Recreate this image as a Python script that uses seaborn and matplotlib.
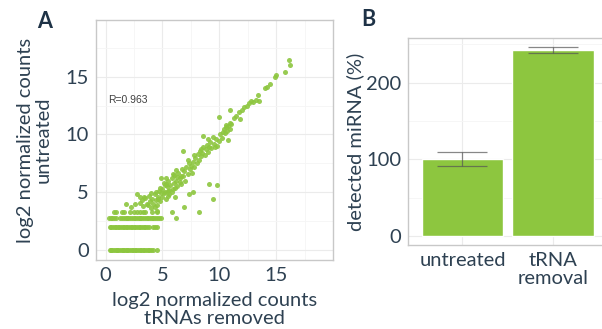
import matplotlib
matplotlib.use("Agg")
import matplotlib.pyplot as plt
import seaborn as sns
import pandas as pd
import numpy as np
from matplotlib.ticker import MultipleLocator

# ---------------- data: panel A (log2 normalized counts) ----------------
band_levels = [0.0, 2.0, 2.75, 3.3]
band0_x = [0.35, 0.5, 0.6, 0.75, 0.9, 1.0, 1.1, 1.25, 1.4, 1.5, 1.6, 1.75, 1.9, 2.0,
           2.15, 2.3, 2.4, 2.55, 2.7, 2.85, 3.0, 3.1, 3.25, 3.4, 3.55, 3.7, 3.85,
           4.0, 4.15, 4.5]
band2_x = [0.35, 0.5, 0.65, 0.8, 0.95, 1.1, 1.2, 1.35, 1.5, 1.65, 1.8, 1.9, 2.05,
           2.2, 2.35, 2.5, 2.6, 2.75, 2.9, 3.05, 3.2, 3.35, 3.5, 3.65, 3.8, 4.2,
           4.35, 4.5]
band3_x = [0.3, 0.45, 0.6, 0.75, 0.9, 1.3, 1.45, 1.6, 1.75, 1.9, 2.0, 2.15, 2.3,
           2.45, 2.6, 2.75, 2.9, 3.0, 3.15, 3.3, 3.45, 3.6, 3.75, 3.9, 4.05,
           4.2, 4.35, 4.5, 4.7, 4.9]
band4_x = [0.7, 0.95, 1.4, 1.65, 2.15, 2.45, 2.75, 3.05, 3.3, 3.5, 4.05, 4.5]

cloud_x = [1.8, 2.2, 2.6, 2.8, 3.0, 3.2, 3.3, 3.5, 3.6, 3.8, 3.9, 4.0, 4.1, 4.2,
           4.3, 4.4, 4.5, 4.6, 4.7, 4.8, 4.9, 5.0, 5.0, 5.1, 5.2, 5.3, 5.4, 5.5,
           5.5, 5.6, 5.7, 5.8, 5.9, 6.0, 6.0, 6.1, 6.2, 6.3, 6.4, 6.5, 6.6, 6.7,
           6.8, 6.9, 7.0, 7.1, 7.2, 7.3, 7.4, 7.5, 7.6, 7.7, 7.8, 7.9, 8.0, 8.1,
           8.2, 8.3, 8.4, 8.5, 8.6, 8.7, 8.8, 8.9, 9.0, 9.1, 9.2, 9.3, 9.5, 9.6,
           9.7, 9.8, 10.0, 10.1, 10.2, 10.4, 10.5, 10.6, 10.7, 10.8, 10.9, 10.8,
           10.9, 11.0, 11.3, 11.5, 11.7, 11.8, 12.0, 12.2, 12.4, 12.6, 12.8, 13.0,
           13.2, 13.4, 13.5, 14.0, 14.2, 14.5, 14.9, 15.0, 15.8, 16.1, 16.2,
           4.4, 4.6, 4.8, 5.1, 5.3, 5.6, 5.8, 6.1, 6.3, 6.5, 3.4, 3.7, 4.0, 4.3,
           5.2, 5.5, 5.9, 6.2, 6.6, 7.2, 7.8, 8.4, 9.0, 9.4, 10.3, 10.6,
           6.8, 8.6, 10.0, 10.9, 9.1, 9.8, 9.4, 8.2, 7.7, 6.2, 6.9, 5.8, 5.3,
           4.9, 7.3, 3.0, 4.5]
cloud_y = [4.0, 3.7, 4.0, 4.8, 4.1, 4.3, 3.8, 4.5, 4.0, 4.7, 4.2, 3.6, 4.4, 4.0,
           4.8, 4.3, 3.9, 4.6, 5.1, 4.2, 4.9, 5.3, 4.6, 5.8, 5.0, 4.4, 5.5, 5.1,
           6.0, 4.8, 5.6, 6.2, 5.3, 5.8, 6.5, 4.6, 6.0, 5.5, 6.7, 6.2, 5.7, 7.0,
           6.4, 6.8, 6.0, 7.2, 6.6, 7.5, 7.0, 7.3, 6.7, 7.6, 7.2, 8.0, 7.5, 8.3,
           7.8, 8.6, 8.1, 8.4, 8.9, 8.2, 8.7, 9.1, 8.5, 8.9, 9.3, 8.8, 9.2, 8.9,
           9.6, 9.0, 9.4, 10.0, 9.7, 10.5, 10.1, 10.6, 10.3, 10.7, 10.5, 9.5,
           11.0, 10.9, 11.4, 11.6, 11.9, 11.3, 12.1, 12.4, 12.5, 12.7, 12.9, 12.8,
           13.0, 13.4, 12.9, 14.0, 14.1, 14.4, 15.0, 15.1, 15.4, 16.4, 16.0,
           5.0, 4.4, 5.4, 4.9, 5.7, 5.2, 5.0, 5.4, 6.3, 5.9, 4.6, 3.9, 4.9, 3.7,
           5.6, 4.7, 6.6, 6.9, 6.4, 7.8, 8.2, 8.7, 9.6, 9.8, 10.2, 10.8,
           8.6, 9.9, 11.5, 12.1, 5.7, 5.6, 4.4, 3.3, 5.0, 2.75, 3.7, 3.3, 6.2,
           6.2, 4.8, 4.6, 3.4]

r_text = "R=0.963"

# ---------------- data: panel B ----------------
categories = ["untreated", "tRNA\nremoval"]
detected = [100, 242]
err_low = [91, 239]
err_high = [109, 246]

# ---------------- build frame ----------------
xs = list(cloud_x)
ys = list(cloud_y)
for lvl, bx in zip(band_levels, [band0_x, band2_x, band3_x, band4_x]):
    xs += bx
    ys += [lvl] * len(bx)
dfA = pd.DataFrame({"removed": xs, "untreated": ys})
dfB = pd.DataFrame({"cat": categories, "val": detected})

# ---------------- style ----------------
sns.set_theme(style="white")
plt.rcParams["font.family"] = ["Lato", "DejaVu Sans"]
txt = "#2e4152"
green = "#8dc63f"
grid_major = "#ebebeb"
grid_minor = "#f5f5f5"
border = "#c8c8c8"
FS = 14.5

fig = plt.figure(figsize=(6.02, 3.29), dpi=100)
W, H = 602, 329


def px_axes(l, t, r, b):
    return fig.add_axes([l / W, 1 - b / H, (r - l) / W, (b - t) / H])


def style_ax(ax):
    ax.grid(True, which="major", color=grid_major, lw=0.8)
    ax.grid(True, which="minor", color=grid_minor, lw=0.6)
    ax.set_axisbelow(True)
    for s in ax.spines.values():
        s.set_color(border)
        s.set_linewidth(1.0)
    ax.tick_params(axis="both", which="major", length=3, width=0.8, color="#9a9a9a",
                   labelsize=FS, labelcolor=txt, pad=2, direction="out")
    ax.tick_params(axis="both", which="minor", length=0)


# Panel A
axA = px_axes(96, 20, 333, 260)
sns.scatterplot(data=dfA, x="removed", y="untreated", ax=axA, color=green,
                s=13, linewidth=0, alpha=0.9)
axA.set_xlim(-0.85, 20)
axA.set_ylim(-0.87, 19.9)
axA.xaxis.set_minor_locator(MultipleLocator(2.5))
axA.yaxis.set_minor_locator(MultipleLocator(2.5))
axA.set_xticks([0, 5, 10, 15])
axA.set_yticks([0, 5, 10, 15])
style_ax(axA)
axA.set_xlabel("log2 normalized counts\ntRNAs removed", fontsize=FS, color=txt,
               linespacing=1.05, labelpad=6)
axA.set_ylabel("log2 normalized counts\nuntreated", fontsize=FS, color=txt,
               linespacing=1.05, labelpad=10)
axA.text(0.2, 13.0, r_text, fontsize=7.5, color="#404040", ha="left", va="center",
         family=["Liberation Sans", "DejaVu Sans"])

# Panel B
axB = px_axes(408, 38, 603, 245)
sns.barplot(data=dfB, x="cat", y="val", ax=axB, color=green, saturation=1,
            width=0.9, errorbar=None)
pos = list(range(len(categories)))
yerr = [[v - lo for v, lo in zip(detected, err_low)],
        [hi - v for v, hi in zip(detected, err_high)]]
axB.errorbar(pos, detected, yerr=yerr, fmt="none", ecolor="#555555", alpha=0.7,
             elinewidth=0.9, capsize=18, capthick=0.9)
axB.set_xlim(-0.6, 1.55)
axB.set_ylim(-11.7, 258)
axB.set_yticks([0, 100, 200])
axB.yaxis.set_minor_locator(MultipleLocator(50))
style_ax(axB)
axB.grid(True, which="major", axis="x", color=grid_major, lw=0.8)
axB.set_xlabel("")
axB.set_ylabel("detected miRNA (%)", fontsize=FS, color=txt, labelpad=1)
for lab in axB.get_xticklabels():
    lab.set_linespacing(1.05)

fig.text(45 / W, 1 - 22 / H, "A", fontsize=15.5, fontweight="bold", color="#1e3246",
         ha="center", va="center")
fig.text(368 / W, 1 - 20 / H, "B", fontsize=15.5, fontweight="bold", color="#1e3246",
         ha="center", va="center")

fig.savefig("out.png", dpi=100)
